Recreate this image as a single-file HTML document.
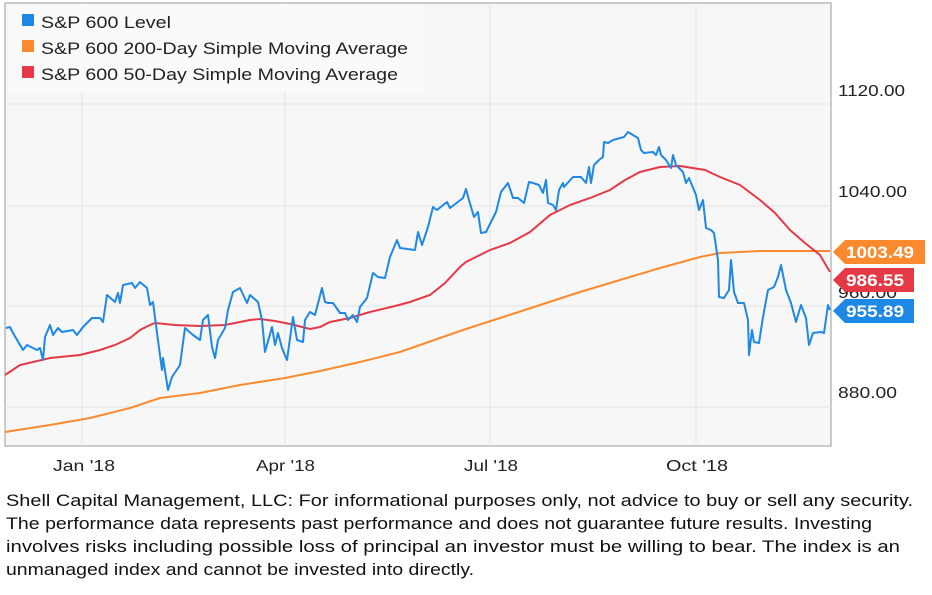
<!DOCTYPE html>
<html><head><style>
body{margin:0;background:#fff;width:932px;height:595px;overflow:hidden;font-family:"Liberation Sans",sans-serif}
</style></head><body>
<svg width="932" height="595" style="position:absolute;left:0;top:0" font-family="Liberation Sans, sans-serif">
<rect x="5" y="3" width="826" height="443" fill="#f7f7f7" stroke="#999" stroke-width="1"/>
<g stroke="#e3e3e3" stroke-width="1">
<line x1="5" y1="104" x2="831" y2="104"/><line x1="5" y1="206" x2="831" y2="206"/>
<line x1="5" y1="306" x2="831" y2="306"/><line x1="5" y1="407" x2="831" y2="407"/>
<line x1="82" y1="3" x2="82" y2="446"/><line x1="285" y1="3" x2="285" y2="446"/>
<line x1="490" y1="3" x2="490" y2="446"/><line x1="696" y1="3" x2="696" y2="446"/>
</g>
<rect x="8" y="4" width="416" height="88" fill="#fafafa"/>
<rect x="22" y="14" width="12" height="12" fill="#1e88e5"/>
<rect x="22" y="40" width="12" height="12" fill="#fb8a2e"/>
<rect x="22" y="66" width="12" height="12" fill="#e53946"/>
<g font-size="16.5" fill="#222" lengthAdjust="spacingAndGlyphs">
<text x="41" y="28" textLength="130" lengthAdjust="spacingAndGlyphs">S&amp;P 600 Level</text>
<text x="41" y="54" textLength="367" lengthAdjust="spacingAndGlyphs">S&amp;P 600 200-Day Simple Moving Average</text>
<text x="41" y="80" textLength="357" lengthAdjust="spacingAndGlyphs">S&amp;P 600 50-Day Simple Moving Average</text>
</g>
<polyline fill="none" stroke="#fb8a2e" stroke-width="2" points="5,432 50,425 90,418 130,408 160,398 200,393 240,385 285,378 320,371 360,362 400,352 440,338 466,329 500,318 540,305 580,292 620,280 660,268 700,257 720,253 760,251 830,251"/>
<polyline fill="none" stroke="#e53946" stroke-width="2" points="5,375 20,365 50,358 80,355 100,350 115,345 130,338 140,330 150,325 155,323 175,325 200,326 225,325 250,320 260,319 275,321 290,324 310,329 320,327 330,322 350,318 370,312 395,306 410,302 430,295 445,283 460,267 466,262 490,250 510,243 530,232 550,215 570,205 590,198 610,190 625,180 640,172 660,167 680,166 705,170 720,177 740,185 760,200 775,213 790,230 805,243 820,255 830,272"/>
<polyline fill="none" stroke="#1e88e5" stroke-width="2" stroke-linejoin="round" points="6,328 10,327 13,333 23,350 27,345 37,350 40,348 43,360 45,337 50,325 53,335 58,328 62,332 73,330 77,335 83,327 90,320 92,318 100,318 103,322 107,295 115,302 118,293 120,303 123,285 132,283 135,288 140,282 147,288 150,305 153,302 157,333 162,370 163,358 168,390 172,377 180,365 185,328 193,335 200,340 203,320 208,315 212,347 215,358 218,340 225,328 228,310 233,292 240,288 247,303 250,295 258,302 262,320 265,352 272,327 275,345 278,333 282,348 287,360 293,317 297,340 303,342 305,320 310,312 315,315 322,288 325,302 328,303 333,303 340,313 345,313 348,320 353,315 357,322 360,307 367,298 373,273 378,277 385,278 390,257 397,240 400,248 415,250 418,232 422,245 428,227 433,207 437,210 447,202 450,208 463,198 466,189 469,200 474,217 478,212 481,233 486,232 491,222 496,212 501,192 508,183 513,198 518,198 524,203 529,182 533,183 539,185 543,193 546,180 548,203 553,205 556,210 559,190 563,183 564,187 573,177 581,177 586,183 589,167 591,183 594,165 599,160 603,157 604,142 608,143 613,140 624,137 628,132 633,135 638,138 641,150 644,153 653,152 656,155 659,147 661,155 666,160 671,168 673,155 676,165 683,172 686,183 689,178 696,195 699,210 703,200 706,228 711,230 714,233 718,260 719,297 724,298 729,290 731,260 734,292 738,303 744,303 748,320 749,355 752,330 754,342 759,343 763,317 768,290 774,287 778,277 781,265 786,290 791,303 796,322 801,305 806,318 809,345 813,333 821,332 824,333 828,305 830,310"/>
<g font-size="16" fill="#222">
<text x="838" y="96" textLength="67" lengthAdjust="spacingAndGlyphs">1120.00</text>
<text x="838" y="197" textLength="69" lengthAdjust="spacingAndGlyphs">1040.00</text>
<text x="838" y="298" textLength="59" lengthAdjust="spacingAndGlyphs">960.00</text>
<text x="838" y="398" textLength="59" lengthAdjust="spacingAndGlyphs">880.00</text>
<text x="53" y="471" textLength="62" lengthAdjust="spacingAndGlyphs">Jan '18</text>
<text x="256" y="471" textLength="59" lengthAdjust="spacingAndGlyphs">Apr '18</text>
<text x="464" y="471" textLength="54" lengthAdjust="spacingAndGlyphs">Jul '18</text>
<text x="666" y="471" textLength="62" lengthAdjust="spacingAndGlyphs">Oct '18</text>
</g>
<polygon points="833,252 845,240 925,240 925,264 845,264" fill="#fb8a2e"/>
<polygon points="833,280 845,268 914,268 914,292 845,292" fill="#e53946"/>
<polygon points="833,311 845,299 914,299 914,323 845,323" fill="#1e88e5"/>
<g font-size="17" font-weight="bold" fill="#fff">
<text x="846" y="258" textLength="68" lengthAdjust="spacingAndGlyphs">1003.49</text>
<text x="846" y="286" textLength="58" lengthAdjust="spacingAndGlyphs">986.55</text>
<text x="846" y="317" textLength="58" lengthAdjust="spacingAndGlyphs">955.89</text>
</g>
<g font-size="17" fill="#111">
<text x="6" y="506" textLength="907" lengthAdjust="spacingAndGlyphs">Shell Capital Management, LLC: For informational purposes only, not advice to buy or sell any security.</text>
<text x="6" y="529" textLength="866" lengthAdjust="spacingAndGlyphs">The performance data represents past performance and does not guarantee future results. Investing</text>
<text x="6" y="552" textLength="894" lengthAdjust="spacingAndGlyphs">involves risks including possible loss of principal an investor must be willing to bear. The index is an</text>
<text x="6" y="575" textLength="468" lengthAdjust="spacingAndGlyphs">unmanaged index and cannot be invested into directly.</text>
</g>
</svg>
</body></html>
